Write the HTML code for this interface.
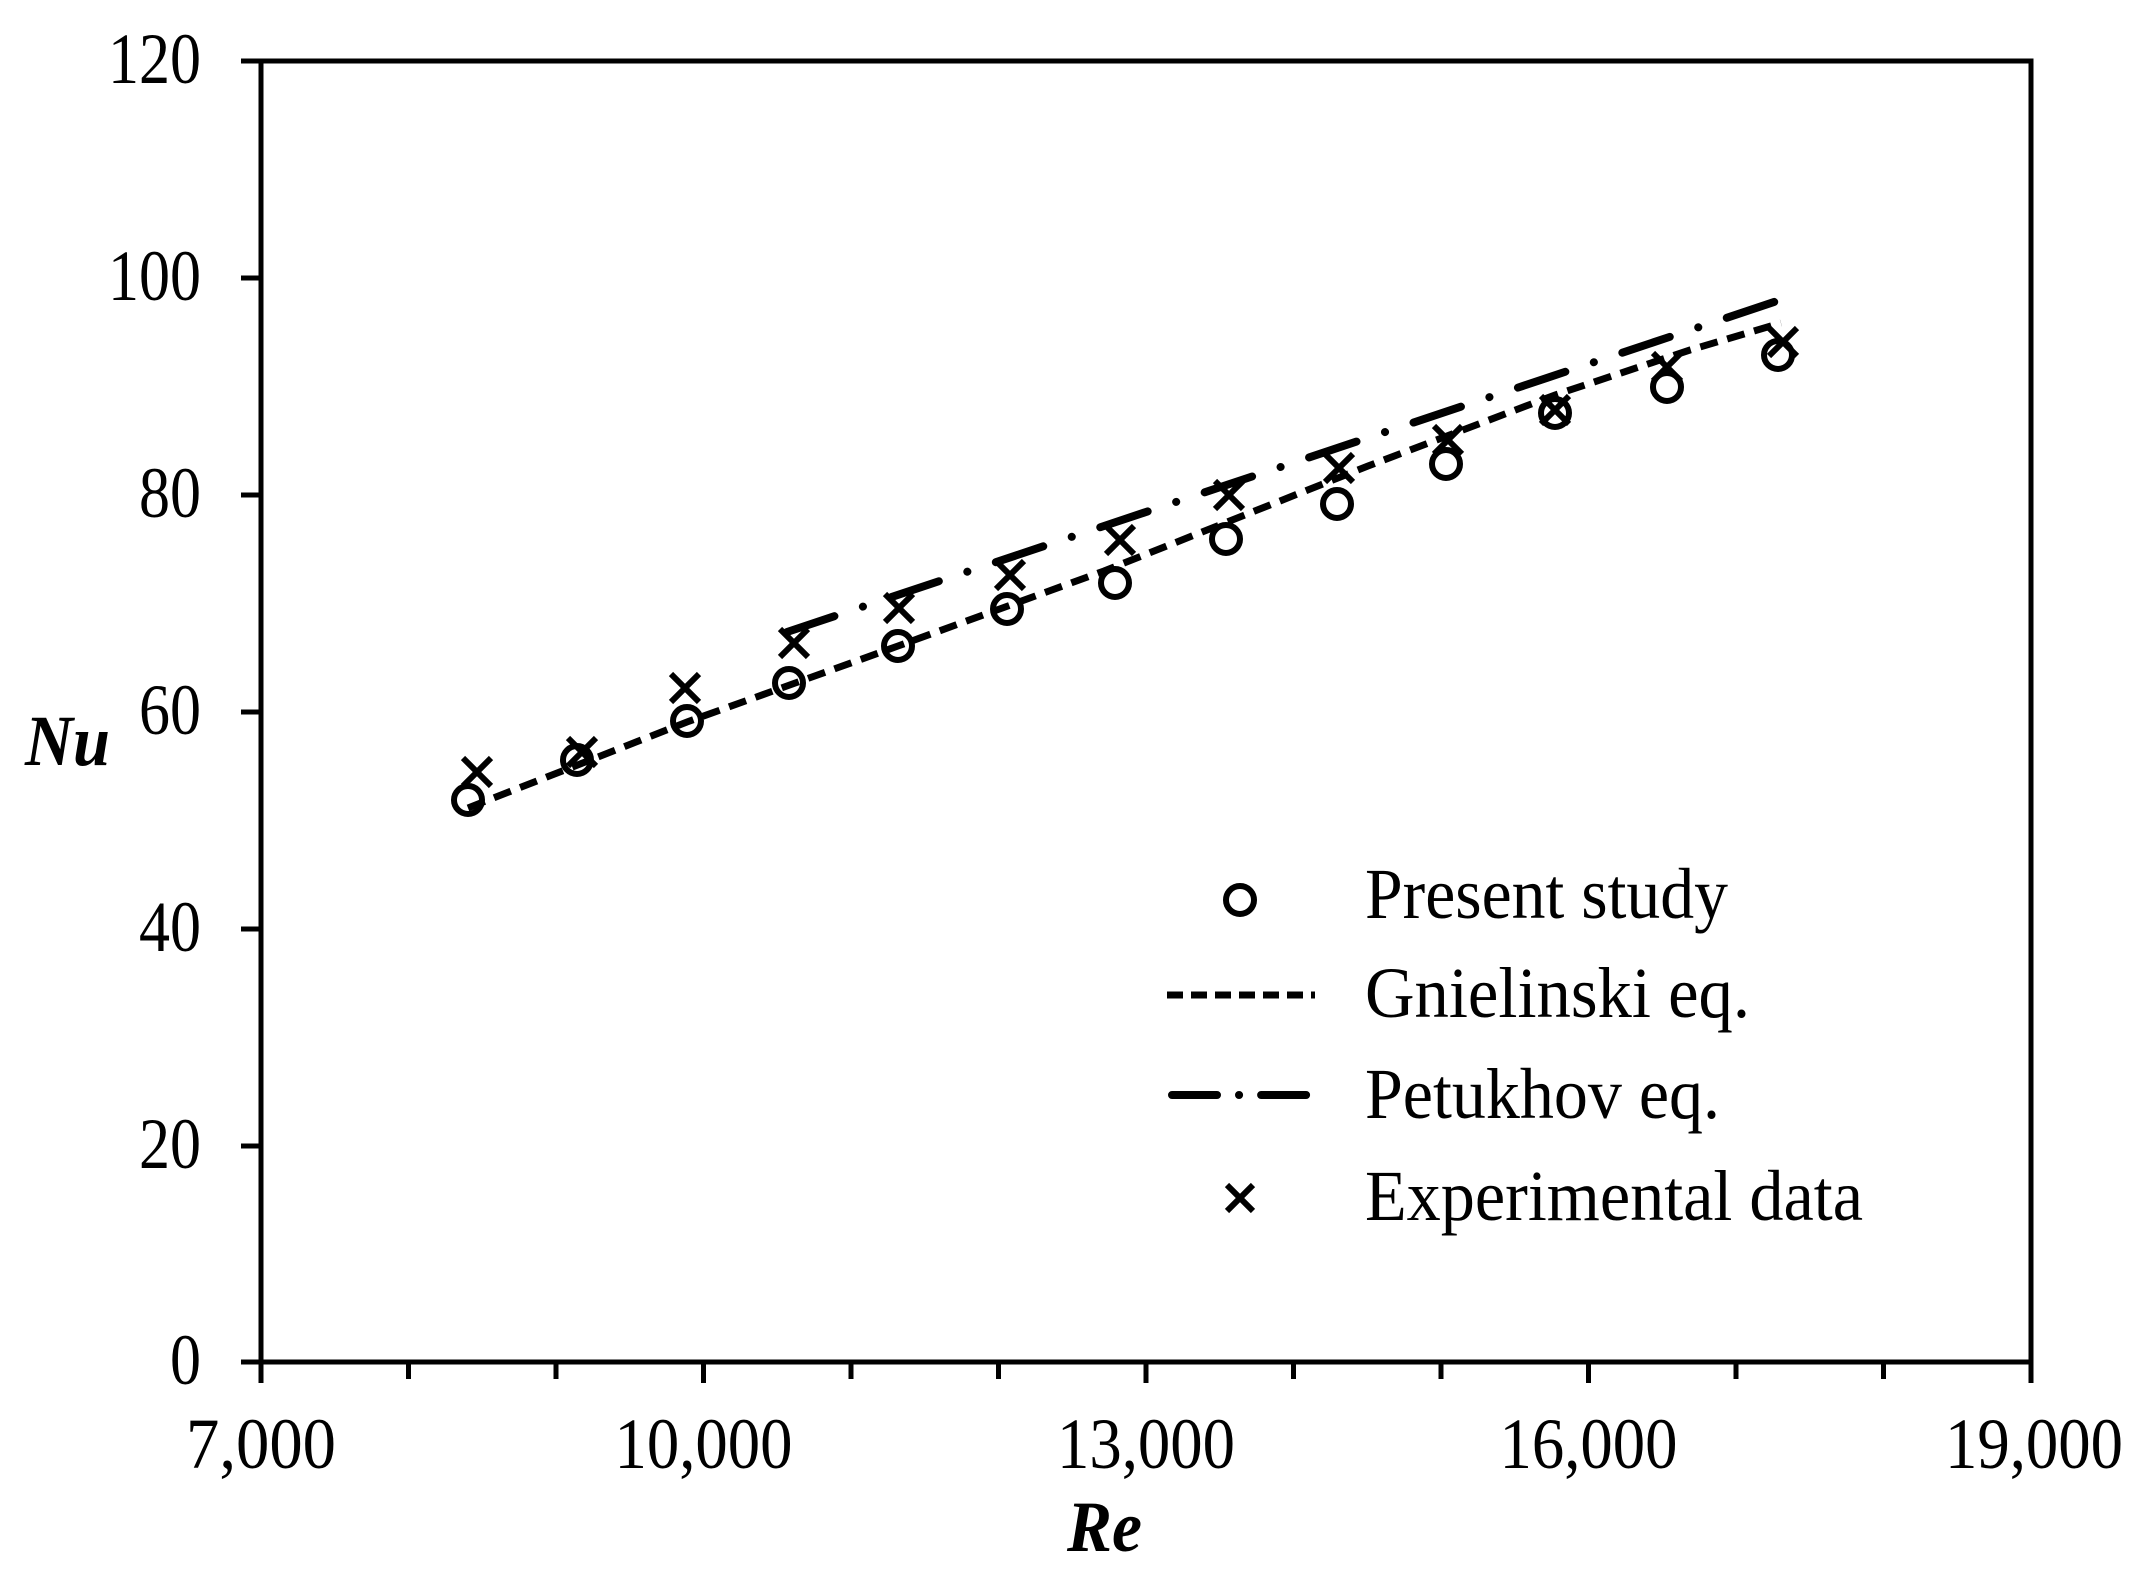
<!DOCTYPE html>
<html><head><meta charset="utf-8"><style>html,body{margin:0;padding:0;background:#fff}svg{display:block}</style></head>
<body>
<svg width="2148" height="1574" viewBox="0 0 2148 1574" xmlns="http://www.w3.org/2000/svg" font-family="'Liberation Serif', serif">
<rect width="2148" height="1574" fill="#fff"/>
<g stroke="#000" stroke-width="5" fill="none">
<rect x="261" y="61" width="1770" height="1301"/>
<path d="M241 61H261M241 278H261M241 495H261M241 712H261M241 929H261M241 1146H261M241 1362H261"/>
<path d="M261 1362V1383M408.5 1362V1379M556 1362V1379M703.5 1362V1383M851 1362V1379M998.5 1362V1379M1146 1362V1383M1293.5 1362V1379M1441 1362V1379M1588.5 1362V1383M1736 1362V1379M1883.5 1362V1379M2031 1362V1383"/>
</g>
<g font-size="72" fill="#000" text-anchor="end">
<text x="201" y="83" textLength="93" lengthAdjust="spacingAndGlyphs">120</text>
<text x="201" y="300" textLength="93" lengthAdjust="spacingAndGlyphs">100</text>
<text x="201" y="517" textLength="62" lengthAdjust="spacingAndGlyphs">80</text>
<text x="201" y="734" textLength="62" lengthAdjust="spacingAndGlyphs">60</text>
<text x="201" y="951" textLength="62" lengthAdjust="spacingAndGlyphs">40</text>
<text x="201" y="1168" textLength="62" lengthAdjust="spacingAndGlyphs">20</text>
<text x="201" y="1384" textLength="31" lengthAdjust="spacingAndGlyphs">0</text>
</g>
<g font-size="72" fill="#000" text-anchor="middle">
<text x="261" y="1468" textLength="150" lengthAdjust="spacingAndGlyphs">7,000</text>
<text x="703.5" y="1468" textLength="178" lengthAdjust="spacingAndGlyphs">10,000</text>
<text x="1146" y="1468" textLength="178" lengthAdjust="spacingAndGlyphs">13,000</text>
<text x="1588.5" y="1468" textLength="178" lengthAdjust="spacingAndGlyphs">16,000</text>
<text x="2034" y="1468" textLength="178" lengthAdjust="spacingAndGlyphs">19,000</text>
</g>
<text x="25" y="765" font-size="72" font-weight="bold" font-style="italic" textLength="85" lengthAdjust="spacingAndGlyphs">Nu</text>
<text x="1067" y="1551" font-size="72" font-weight="bold" font-style="italic" textLength="75" lengthAdjust="spacingAndGlyphs">Re</text>

<polyline points="468,808 687,722 898,646 1104,571 1368,466 1555,395 1690,350 1781,323" fill="none" stroke="#000" stroke-width="7" stroke-dasharray="18 10"/>
<line x1="787" y1="632" x2="1783" y2="299" stroke="#000" stroke-width="8" stroke-linecap="round" stroke-dasharray="50 30 0.1 30"/>

<g fill="none" stroke="#000" stroke-width="6">
<circle cx="468" cy="800" r="14"/><circle cx="577" cy="760" r="14"/><circle cx="687" cy="721" r="14"/>
<circle cx="789" cy="683" r="14"/><circle cx="898" cy="646" r="14"/><circle cx="1007" cy="609" r="14"/>
<circle cx="1115" cy="583" r="14"/><circle cx="1226" cy="539" r="14"/><circle cx="1337" cy="504" r="14"/>
<circle cx="1446" cy="464" r="14"/><circle cx="1555" cy="413" r="14"/><circle cx="1667" cy="387" r="14"/>
<circle cx="1778" cy="355" r="14"/>
<circle cx="1240" cy="900" r="14"/>
</g>
<g stroke="#000" stroke-width="6" fill="none">
<path d="M463 758l28 28M491 758l-28 28
M568 738l28 28M596 738l-28 28
M671 674l28 28M699 674l-28 28
M780 629l28 28M808 629l-28 28
M885 594l28 28M913 594l-28 28
M996 561l28 28M1024 561l-28 28
M1106 526l28 28M1134 526l-28 28
M1215 481l28 28M1243 481l-28 28
M1325 454l28 28M1353 454l-28 28
M1434 426l28 28M1462 426l-28 28
M1541 396l28 28M1569 396l-28 28
M1653 353l28 28M1681 353l-28 28
M1769 328l28 28M1797 328l-28 28
M1227 1185l26 26M1253 1185l-26 26"/>
</g>
<line x1="1167" y1="995" x2="1315" y2="995" stroke="#000" stroke-width="7" stroke-dasharray="16 8"/>
<line x1="1172" y1="1095" x2="1312" y2="1095" stroke="#000" stroke-width="8" stroke-linecap="round" stroke-dasharray="45 22 0.1 22"/>
<g font-size="72" fill="#000">
<text x="1365" y="918" textLength="363" lengthAdjust="spacingAndGlyphs">Present study</text>
<text x="1365" y="1017" textLength="385" lengthAdjust="spacingAndGlyphs">Gnielinski eq.</text>
<text x="1365" y="1118" textLength="355" lengthAdjust="spacingAndGlyphs">Petukhov eq.</text>
<text x="1365" y="1220" textLength="498" lengthAdjust="spacingAndGlyphs">Experimental data</text>
</g>
</svg>
</body></html>
